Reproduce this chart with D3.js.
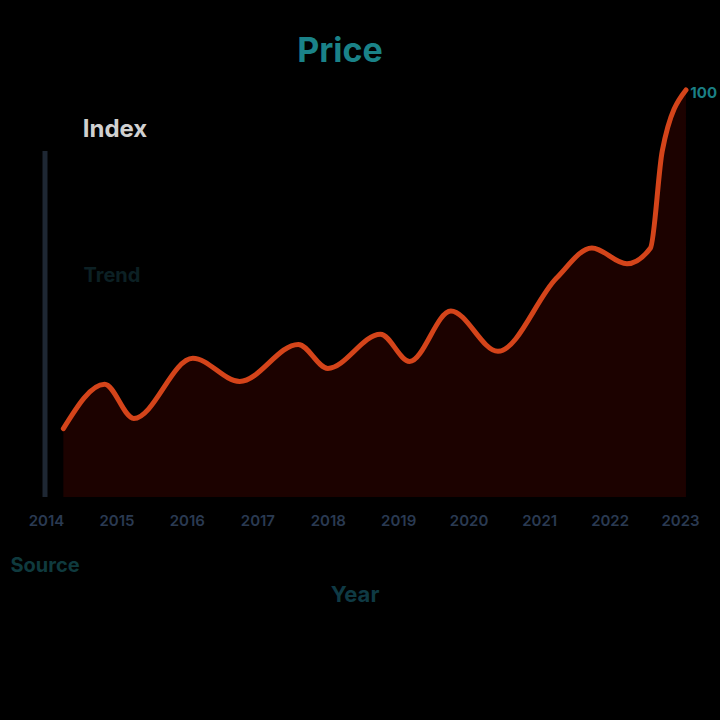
<!DOCTYPE html>
<html>
<head>
<meta charset="utf-8">
<script src="https://cdn.jsdelivr.net/npm/d3@7"></script>
<style>
  html, body { margin: 0; padding: 0; background: #000; }
  svg { display: block; }
</style>
</head>
<body>
<svg id="chart" width="720" height="720"></svg>
<script>
// ---- data ----
const dates = ["2014-04","2014-11","2015-04","2016-02","2016-10","2017-08","2018-01",
               "2018-10","2019-03","2019-10","2020-06","2021-04","2021-10","2022-04",
               "2022-08","2022-10","2023-02"];
const values = [16.8, 27.7, 19.3, 34.1, 28.4, 37.5, 31.6, 40.0, 33.3, 45.7,
                35.8, 53.8, 61.2, 57.3, 61.2, 85.0, 100.0];
const tickLabels = ["2014","2015","2016","2017","2018","2019","2020","2021","2022","2023"];
const titleText = "Index";
const subtitleText = "Price";
const endLabel = "100";
const xTitle = "Year";
const sourceText = "Source";
const noteText = "Trend";

const parse = d3.timeParse("%Y-%m");
const data = dates.map((d, i) => ({ date: parse(d), value: values[i] }));
const tickDates = tickLabels.map(t => d3.timeParse("%Y")(t));

const svg = d3.select("#chart");
svg.append("rect").attr("width", 720).attr("height", 720).attr("fill", "#000");

const x = d3.scaleTime()
  .domain([tickDates[0], tickDates[tickDates.length - 1]])
  .range([46, 680]);
const y = d3.scaleLinear().domain([0, 100]).range([497, 90]);

// area
const area = d3.area()
  .x(d => x(d.date))
  .y0(y(0))
  .y1(d => y(d.value))
  .curve(d3.curveMonotoneX);
svg.append("path").datum(data)
  .attr("d", area)
  .attr("fill", "#1c0200");

// line
const line = d3.line()
  .x(d => x(d.date))
  .y(d => y(d.value))
  .curve(d3.curveMonotoneX);
svg.append("path").datum(data)
  .attr("d", line)
  .attr("fill", "none")
  .attr("stroke", "#d4441a")
  .attr("stroke-width", 5)
  .attr("stroke-linejoin", "round")
  .attr("stroke-linecap", "round");

// y axis line
svg.append("line")
  .attr("x1", 45).attr("x2", 45)
  .attr("y1", y(0)).attr("y2", y(85))
  .attr("stroke", "#1e2733").attr("stroke-width", 5);

// x axis
const xAxis = d3.axisBottom(x).tickValues(tickDates)
  .tickFormat((d, i) => tickLabels[i]).tickSize(0).tickPadding(14);
const gx = svg.append("g").attr("transform", `translate(0,${y(0) + 4})`).call(xAxis);
gx.select(".domain").remove();
gx.selectAll("text")
  .attr("fill", "#2a3a52")
  .style("font-family", "Inter, 'DejaVu Sans', sans-serif")
  .style("font-size", "15px")
  .style("font-weight", "600");

// titles
svg.append("text")
  .attr("x", 340).attr("y", 62)
  .attr("text-anchor", "middle")
  .attr("fill", "#1a8288")
  .style("font-family", "Inter, 'DejaVu Sans', sans-serif")
  .style("font-size", "34px").style("font-weight", "700")
  .text(subtitleText);

svg.append("text")
  .attr("x", 115).attr("y", 137)
  .attr("text-anchor", "middle")
  .attr("fill", "#d0d0d0")
  .style("font-family", "Inter, 'DejaVu Sans', sans-serif")
  .style("font-size", "24px").style("font-weight", "700")
  .text(titleText);

// faint annotation
svg.append("text")
  .attr("x", 112).attr("y", 282)
  .attr("text-anchor", "middle")
  .attr("fill", "#0c2024")
  .style("font-family", "Inter, 'DejaVu Sans', sans-serif")
  .style("font-size", "20px").style("font-weight", "700")
  .text(noteText);

// end label
const last = data[data.length - 1];
svg.append("text")
  .attr("x", 717).attr("y", y(last.value) + 8)
  .attr("text-anchor", "end")
  .attr("fill", "#1a7f85")
  .style("font-family", "Inter, 'DejaVu Sans', sans-serif")
  .style("font-size", "15px").style("font-weight", "700")
  .text(endLabel);

// x-axis title & source
svg.append("text")
  .attr("x", 355).attr("y", 602)
  .attr("text-anchor", "middle")
  .attr("fill", "#0f3a44")
  .style("font-family", "Inter, 'DejaVu Sans', sans-serif")
  .style("font-size", "22px").style("font-weight", "700")
  .text(xTitle);

svg.append("text")
  .attr("x", 45).attr("y", 572)
  .attr("text-anchor", "middle")
  .attr("fill", "#0f3a3e")
  .style("font-family", "Inter, 'DejaVu Sans', sans-serif")
  .style("font-size", "20px").style("font-weight", "700")
  .text(sourceText);
</script>
</body>
</html>
